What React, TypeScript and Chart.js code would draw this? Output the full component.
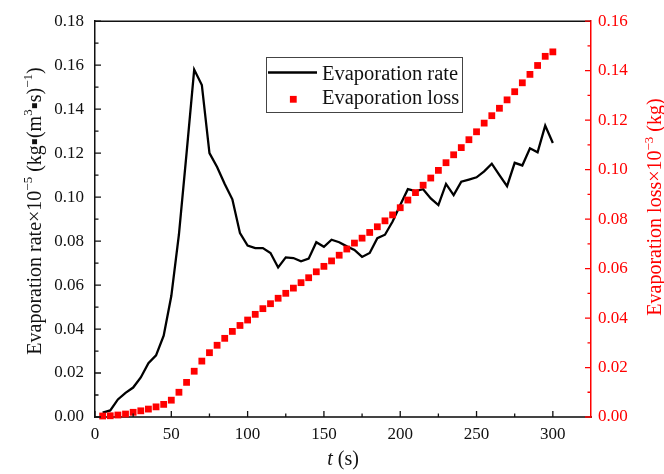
import React, { useEffect, useRef } from 'react';
import { Chart, registerables } from 'chart.js';

Chart.register(...registerables);

// ---- data ----
const times = [
  5, 10, 15, 20, 25, 30, 35, 40, 45, 50, 55, 60, 65, 70, 75, 80, 85, 90, 95, 100,
  105, 110, 115, 120, 125, 130, 135, 140, 145, 150, 155, 160, 165, 170, 175, 180, 185, 190, 195, 200,
  205, 210, 215, 220, 225, 230, 235, 240, 245, 250, 255, 260, 265, 270, 275, 280, 285, 290, 295, 300,
];

const evaporationRate = [
  0.002, 0.003, 0.008, 0.011, 0.0134, 0.018, 0.0245, 0.028, 0.037, 0.055,
  0.083, 0.12, 0.158, 0.151, 0.12, 0.1137, 0.106, 0.099, 0.0836, 0.078,
  0.0768, 0.0768, 0.0746, 0.068, 0.0726, 0.0723, 0.0708, 0.072, 0.0795, 0.0774,
  0.0806, 0.0795, 0.0776, 0.076, 0.0728, 0.0746, 0.0813, 0.0829, 0.0889, 0.0964,
  0.1036, 0.1027, 0.1036, 0.0994, 0.0964, 0.106, 0.1009, 0.107, 0.108, 0.109,
  0.1117, 0.1152, 0.11, 0.105, 0.1156, 0.1144, 0.1222, 0.1204, 0.1325, 0.1246,
];

const evaporationLoss = [
  0.0004, 0.0005, 0.0008, 0.0012, 0.0019, 0.0025, 0.0032, 0.0041, 0.0051, 0.0068,
  0.01, 0.014, 0.0185, 0.0226, 0.026, 0.029, 0.0318, 0.0346, 0.037, 0.0392,
  0.0415, 0.0438, 0.0458, 0.048, 0.05, 0.0521, 0.0543, 0.0563, 0.0587, 0.0609,
  0.0631, 0.0654, 0.0679, 0.0703, 0.0723, 0.0746, 0.0769, 0.0793, 0.0817, 0.0846,
  0.0877, 0.0907, 0.0937, 0.0966, 0.0997, 0.1028, 0.106, 0.1089, 0.1121, 0.1153,
  0.1188, 0.1218, 0.1248, 0.1282, 0.1315, 0.1351, 0.1385, 0.1421, 0.1458, 0.1476,
];

const xTickValues = [0, 50, 100, 150, 200, 250, 300];
const xMax = 325;
const yLeftMax = 0.18;
const yRightMax = 0.16;
const tickStep = 0.02;

const seriesLabels = ['Evaporation rate', 'Evaporation loss'];

// ---- styling ----
const FONT = "'Liberation Serif', 'Times New Roman', Times, serif";
const RED = '#ff0000';

type Seg = { t: string; sup?: boolean; italic?: boolean };

const leftTitle: Seg[] = [
  { t: 'Evaporation rate×10' },
  { t: '−5', sup: true },
  { t: ' (kg▪(m' },
  { t: '3', sup: true },
  { t: '▪s)' },
  { t: '−1', sup: true },
  { t: ')' },
];
const rightTitle: Seg[] = [
  { t: 'Evaporation loss×10' },
  { t: '−3', sup: true },
  { t: ' (kg)' },
];
const bottomTitle: Seg[] = [{ t: 't', italic: true }, { t: ' (s)' }];

function drawRich(
  ctx: CanvasRenderingContext2D,
  segs: Seg[],
  x: number,
  y: number,
  size: number,
  color: string,
  rotate: boolean
) {
  ctx.save();
  ctx.translate(x, y);
  if (rotate) ctx.rotate(-Math.PI / 2);
  ctx.fillStyle = color;
  ctx.textBaseline = 'alphabetic';
  ctx.textAlign = 'left';
  const fontFor = (s: Seg) =>
    `${s.italic ? 'italic ' : ''}${s.sup ? Math.round(size * 0.65) : size}px ${FONT}`;
  let total = 0;
  const widths = segs.map((s) => {
    ctx.font = fontFor(s);
    const w = ctx.measureText(s.t).width;
    total += w;
    return w;
  });
  let cx = -total / 2;
  segs.forEach((s, i) => {
    ctx.font = fontFor(s);
    ctx.fillText(s.t, cx, s.sup ? -size * 0.42 : 0);
    cx += widths[i];
  });
  ctx.restore();
}

const decorPlugin = {
  id: 'decor',
  afterDraw(chart: any) {
    const { ctx, chartArea } = chart;
    const { left, right, top, bottom } = chartArea;
    const sx = chart.scales.x;
    const sy = chart.scales.y;
    const sy1 = chart.scales.y1;
    ctx.save();

    // top frame
    ctx.strokeStyle = '#111';
    ctx.lineWidth = 1.5;
    ctx.beginPath();
    ctx.moveTo(left, top);
    ctx.lineTo(right, top);
    ctx.stroke();

    const MAJ = 6;
    const MIN = 3.5;

    // x ticks (inward, upward)
    ctx.strokeStyle = '#111';
    ctx.lineWidth = 1.3;
    const xt = sx.ticks.map((t: any) => t.value);
    const xStepV = xt[1] - xt[0];
    ctx.beginPath();
    xt.forEach((v: number) => {
      const p = sx.getPixelForValue(v);
      ctx.moveTo(p, bottom);
      ctx.lineTo(p, bottom - MAJ);
      const pm = sx.getPixelForValue(v + xStepV / 2);
      if (pm < right - 1) {
        ctx.moveTo(pm, bottom);
        ctx.lineTo(pm, bottom - MIN);
      }
    });
    ctx.stroke();

    // left y ticks
    const yt = sy.ticks.map((t: any) => t.value);
    ctx.beginPath();
    yt.forEach((v: number, i: number) => {
      const p = sy.getPixelForValue(v);
      ctx.moveTo(left, p);
      ctx.lineTo(left + MAJ, p);
      if (i < yt.length - 1) {
        const pm = sy.getPixelForValue((v + yt[i + 1]) / 2);
        ctx.moveTo(left, pm);
        ctx.lineTo(left + MIN, pm);
      }
    });
    ctx.stroke();

    // right y ticks
    ctx.strokeStyle = RED;
    const yt1 = sy1.ticks.map((t: any) => t.value);
    ctx.beginPath();
    yt1.forEach((v: number, i: number) => {
      const p = sy1.getPixelForValue(v);
      ctx.moveTo(right, p);
      ctx.lineTo(right - MAJ, p);
      if (i < yt1.length - 1) {
        const pm = sy1.getPixelForValue((v + yt1[i + 1]) / 2);
        ctx.moveTo(right, pm);
        ctx.lineTo(right - MIN, pm);
      }
    });
    ctx.stroke();

    // axis titles
    drawRich(ctx, leftTitle, 40.5, 211, 20, '#111', true);
    drawRich(ctx, rightTitle, 661, 207, 20, RED, true);
    drawRich(ctx, bottomTitle, (left + right) / 2, 465, 20, '#111', false);

    // legend
    const lx = 266.5;
    const ly = 57.5;
    ctx.strokeStyle = '#444';
    ctx.lineWidth = 1;
    ctx.strokeRect(lx, ly, 196, 55);
    ctx.strokeStyle = '#000';
    ctx.lineWidth = 2.5;
    ctx.beginPath();
    ctx.moveTo(268, 72.5);
    ctx.lineTo(317, 72.5);
    ctx.stroke();
    ctx.fillStyle = RED;
    ctx.fillRect(293.3 - 3.4, 99.3 - 3.4, 6.8, 6.8);
    ctx.fillStyle = '#111';
    ctx.font = `20.5px ${FONT}`;
    ctx.textAlign = 'left';
    ctx.textBaseline = 'alphabetic';
    ctx.fillText(chart.data.datasets[1].label, 322, 79.5);
    ctx.fillText(chart.data.datasets[0].label, 322, 103.5);

    ctx.restore();
  },
};

export default function App() {
  const canvasRef = useRef<HTMLCanvasElement | null>(null);

  useEffect(() => {
    const canvas = canvasRef.current;
    if (!canvas) return;

    const lossData = times.map((t, i) => ({ x: t, y: evaporationLoss[i] }));
    const rateData = times.map((t, i) => ({ x: t, y: evaporationRate[i] }));

    const chart = new Chart(canvas, {
      type: 'scatter',
      data: {
        datasets: [
          {
            label: seriesLabels[1],
            data: lossData,
            xAxisID: 'x',
            yAxisID: 'y1',
            showLine: false,
            pointStyle: 'rect',
            pointRadius: 4.8,
            pointBorderWidth: 0,
            pointBackgroundColor: RED,
            borderColor: RED,
            backgroundColor: RED,
            clip: false as any,
            order: 0,
          },
          {
            label: seriesLabels[0],
            data: rateData,
            xAxisID: 'x',
            yAxisID: 'y',
            showLine: true,
            borderColor: '#000',
            borderWidth: 2.3,
            pointRadius: 0,
            tension: 0,
            order: 1,
          },
        ],
      },
      options: {
        responsive: false,
        animation: false,
        devicePixelRatio: 1,
        layout: { padding: { top: 18, left: 0, right: 0, bottom: 0 } },
        plugins: {
          legend: { display: false },
          tooltip: { enabled: false },
        },
        scales: {
          x: {
            type: 'linear',
            position: 'bottom',
            min: 0,
            max: xMax,
            afterFit: (s: any) => {
              s.height = 57;
            },
            afterBuildTicks: (s: any) => {
              s.ticks = xTickValues.map((v) => ({ value: v }));
            },
            ticks: {
              font: { family: FONT, size: 17 },
              color: '#111',
              padding: 7,
              maxRotation: 0,
            },
            grid: { drawOnChartArea: false, drawTicks: false },
            border: { display: true, color: '#444', width: 2 },
          },
          y: {
            type: 'linear',
            position: 'left',
            min: 0,
            max: yLeftMax,
            afterFit: (s: any) => {
              s.width = 95;
            },
            ticks: {
              stepSize: tickStep,
              font: { family: FONT, size: 17 },
              color: '#111',
              padding: 11,
              callback: (v: any) => Number(v).toFixed(2),
            },
            grid: { drawOnChartArea: false, drawTicks: false },
            border: { display: true, color: '#111', width: 1.5 },
          },
          y1: {
            type: 'linear',
            position: 'right',
            min: 0,
            max: yRightMax,
            afterFit: (s: any) => {
              s.width = 73;
            },
            ticks: {
              stepSize: tickStep,
              font: { family: FONT, size: 17 },
              color: RED,
              padding: 7,
              callback: (v: any) => Number(v).toFixed(2),
            },
            grid: { drawOnChartArea: false, drawTicks: false },
            border: { display: true, color: RED, width: 1.5 },
          },
        },
      },
      plugins: [decorPlugin],
    });

    return () => {
      chart.destroy();
    };
  }, []);

  return (
    <div style={{ position: 'fixed', left: 0, top: 0, width: 664, height: 474, background: '#fff' }}>
      <canvas ref={canvasRef} width={664} height={474} style={{ width: 664, height: 474, display: 'block' }} />
    </div>
  );
}
